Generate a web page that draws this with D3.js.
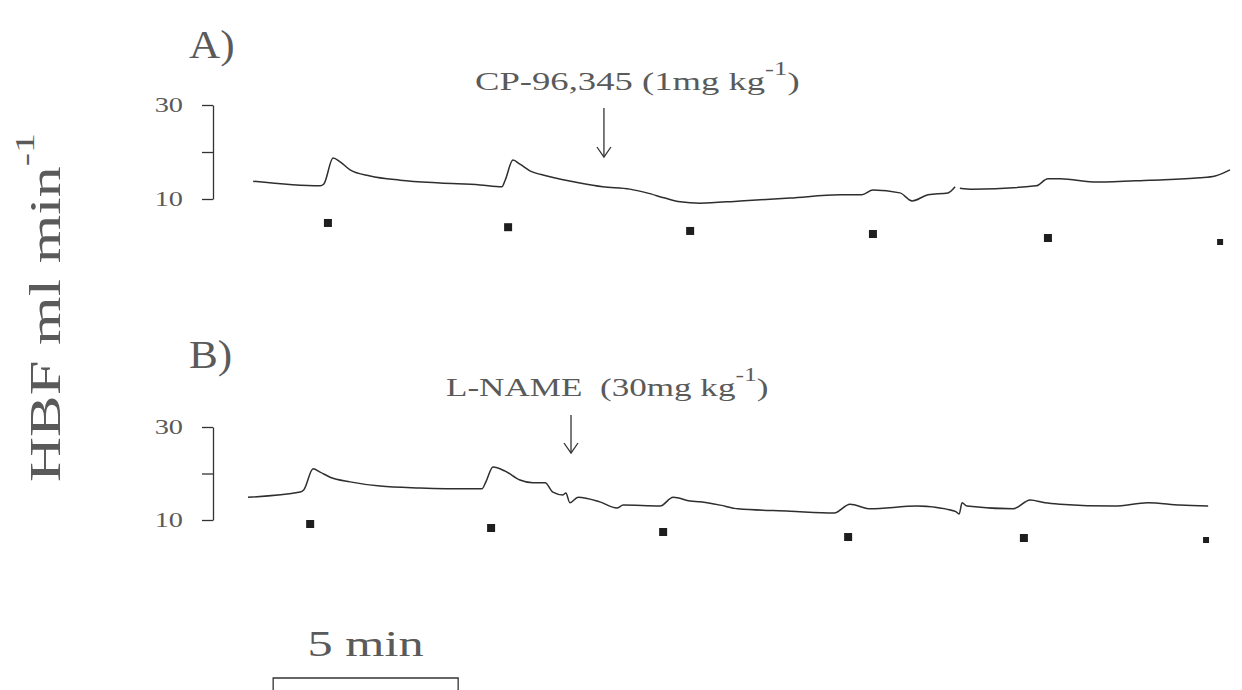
<!DOCTYPE html>
<html>
<head>
<meta charset="utf-8">
<script src="https://cdn.jsdelivr.net/npm/d3@7"></script>
<style>
  body { margin: 0; background: #fff; }
  text { font-family: "Liberation Serif", "DejaVu Serif", serif; fill: #5a5a5a; white-space: pre; }
</style>
</head>
<body>
<div id="chart-area"></div>
<script>
// time in minutes, HBF in ml min-1
const timeA = [0.14, 1.95, 2.05, 2.30, 2.49, 2.76, 3.30, 4.11, 5.19, 6.27, 6.86, 6.95, 7.16, 7.35, 7.62, 8.08, 8.97, 9.59, 10.32, 10.78, 11.27, 11.68, 12.22, 13.30, 14.65, 16.00, 16.59, 16.89, 17.62, 17.95, 18.38, 18.92, 19.11, 19.18, 19.24, 19.59, 21.30, 21.62, 21.95, 22.95, 24.38, 25.73, 26.14, 26.54]
const flowA = [13.8, 12.8, 13.2, 18.7, 17.9, 16.2, 14.9, 14.0, 13.4, 13.0, 12.6, 14.0, 18.3, 17.4, 16.0, 14.9, 13.4, 12.6, 12.1, 11.3, 10.2, 9.4, 9.1, 9.6, 10.2, 10.9, 10.9, 11.9, 11.3, 9.6, 10.9, 11.3, 12.6, null, 12.3, 12.1, 12.8, 14.3, 14.3, 13.6, 14.0, 14.5, 14.9, 16.2]

const timeB = [0.0, 1.41, 1.51, 1.76, 1.95, 2.22, 2.76, 3.57, 4.65, 6.00, 6.32, 6.43, 6.62, 6.95, 7.35, 7.70, 8.03, 8.24, 8.51, 8.59, 8.70, 8.92, 9.51, 9.97, 10.14, 11.14, 11.49, 11.95, 12.22, 12.76, 13.24, 14.65, 15.84, 16.27, 16.81, 18.08, 19.11, 19.22, 19.30, 19.43, 20.68, 21.14, 21.54, 21.95, 23.41, 24.32, 25.19, 25.95]
const flowB = [14.9, 16.0, 16.5, 21.0, 20.3, 19.2, 18.2, 17.3, 16.9, 16.7, 16.7, 18.2, 21.4, 20.5, 18.6, 18.0, 18.0, 16.0, 15.4, 15.8, 13.7, 14.9, 13.9, 12.6, 13.2, 13.0, 14.9, 14.1, 13.9, 13.2, 12.4, 11.9, 11.5, 13.4, 12.4, 13.0, 11.9, 11.3, 13.7, 13.0, 12.4, 14.3, 13.7, 13.4, 13.0, 13.7, 13.2, 13.0]

// event marks under each trace (time, level on the same axis)
const markTimesA = [2.16, 7.03, 11.95, 16.89, 21.62, 26.30]
const markLevelsA = [4.9, 4.0, 3.2, 2.55, 1.7, 0.64]
const markTimesB = [1.68, 6.57, 11.22, 16.22, 20.97, 25.92]
const markLevelsB = [9.14, 8.28, 7.42, 6.34, 6.13, 5.48]

const yTicks = [10, 20, 30]
const doseTimes = [9.62, 8.73]
const doseNames = ["CP-96,345 (1mg kg", "L-NAME  (30mg kg"]
const panelNames = ["A)", "B)"]

let width = 1242
let height = 690

let svg = d3.select("#chart-area")
  .append("svg")
    .attr("width", width)
    .attr("height", height)

let x = d3.scaleLinear().domain([0, 27]).range([248, 1247])

// the plotter font is wide, so stretch text sideways
function wide(sel, tx, ty, sx) {
  return sel.attr("x", 0).attr("y", 0)
    .attr("transform", "translate(" + tx + "," + ty + ") scale(" + sx + ",1)")
}

let panels = [
  {name: panelNames[0], t: timeA, v: flowA, mt: markTimesA, mv: markLevelsA, dose: doseNames[0], doseT: doseTimes[0],
   y: d3.scaleLinear().domain([10, 30]).range([199, 105]), labelY: 58, doseY: 90, arrowTop: 108, arrowTip: 157, doseX: 475, doseSx: 1.41},
  {name: panelNames[1], t: timeB, v: flowB, mt: markTimesB, mv: markLevelsB, dose: doseNames[1], doseT: doseTimes[1],
   y: d3.scaleLinear().domain([10, 30]).range([520, 427]), labelY: 368, doseY: 396, arrowTop: 415, arrowTip: 453, doseX: 446, doseSx: 1.35}
]

panels.forEach(p => {
  let g = svg.append("g")

  // y bracket axis
  let axis = d3.axisLeft(p.y)
    .tickValues(yTicks)
    .tickSize(11)
    .tickSizeOuter(0)
    .tickFormat(d => d == 20 ? "" : d)
  let ax = g.append("g")
    .attr("transform", "translate(213, 0)")
    .call(axis)
  ax.select(".domain").attr("stroke", "#333").attr("stroke-width", 1.3)
  ax.selectAll("line").attr("stroke", "#333").attr("stroke-width", 1.3)
  ax.selectAll("text")
    .attr("font-size", "21px")
    .attr("font-family", "Liberation Serif")
    .attr("dy", "0.3em")
    .style("fill", "#5a5a5a")
  wide(ax.selectAll("text"), -30, 0, 1.35)

  // trace
  let pts = p.t.map((t, i) => ({t: t, v: p.v[i]}))
  let line = d3.line()
    .defined(d => d.v != null)
    .x(d => x(d.t))
    .y(d => p.y(d.v))
    .curve(d3.curveMonotoneX)
  g.append("path")
    .datum(pts)
    .attr("d", line)
    .attr("fill", "none")
    .attr("stroke", "#2e2e2e")
    .attr("stroke-width", 1.5)

  // event marks
  g.selectAll("rect.mark")
    .data(p.mt)
    .enter()
    .append("rect")
      .attr("class", "mark")
      .attr("x", d => x(d) - 4)
      .attr("y", (d, i) => p.y(p.mv[i]) - 4)
      .attr("width", (d, i) => i == p.mt.length - 1 ? 6 : 8)
      .attr("height", (d, i) => i == p.mt.length - 1 ? 6 : 8)
      .attr("fill", "#1e1e1e")

  // panel label
  let pl = g.append("text")
    .attr("font-size", "40px")
    .text(p.name)
  wide(pl, 189, p.labelY, 1.08)

  // dose annotation with superscript
  let dt = g.append("text")
    .attr("font-size", "26px")
  wide(dt, p.doseX, p.doseY, p.doseSx)
  dt.append("tspan").text(p.dose)
  dt.append("tspan").attr("dy", -15).attr("font-size", "19px").text("-1")
  dt.append("tspan").attr("dy", 15).text(")")

  // arrow
  let ax0 = x(p.doseT)
  g.append("line")
    .attr("x1", ax0).attr("x2", ax0)
    .attr("y1", p.arrowTop).attr("y2", p.arrowTip)
    .attr("stroke", "#333").attr("stroke-width", 1.3)
  g.append("path")
    .attr("d", "M" + (ax0 - 7) + "," + (p.arrowTip - 10) + "L" + ax0 + "," + p.arrowTip + "L" + (ax0 + 7) + "," + (p.arrowTip - 10))
    .attr("fill", "none")
    .attr("stroke", "#333")
    .attr("stroke-width", 1.3)
})

// y axis label
let yl = svg.append("text")
  .attr("transform", "translate(60, 482) rotate(-90) scale(1.42,1)")
  .attr("font-size", "44px")
yl.append("tspan").text("HBF ml min")
yl.append("tspan").attr("dy", -26).attr("font-size", "28px").text("-1")

// 5 min scale bar
let barStart = 0.68
let barLen = 5
svg.append("path")
  .attr("d", "M" + x(barStart) + ",690V678H" + x(barStart + barLen) + "V690")
  .attr("fill", "none")
  .attr("stroke", "#333")
  .attr("stroke-width", 1.3)
let sb = svg.append("text")
  .attr("text-anchor", "middle")
  .attr("font-size", "36px")
  .text(barLen + " min")
wide(sb, (x(barStart) + x(barStart + barLen)) / 2, 656, 1.4)
</script>
</body>
</html>
